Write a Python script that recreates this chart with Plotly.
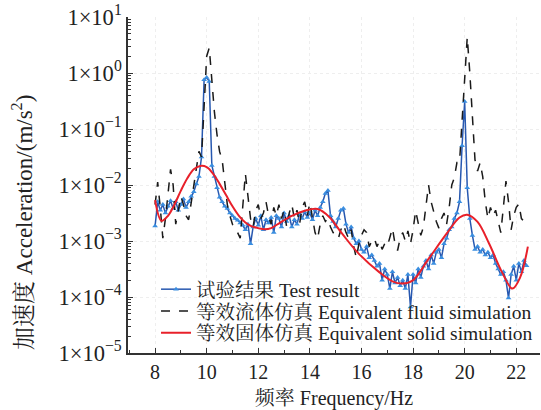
import plotly.graph_objects as go

# ---------------- data ----------------
# Frequencies (Hz) at 0.1 Hz spacing for test & fluid simulation
freq = [round(8.0 + 0.1 * i, 1) for i in range(145)]  # 8.0 ... 22.4

# log10 of acceleration (m/s^2), test result
test_log10 = [
    -2.73, -2.30, -2.45, -2.35, -2.50, -2.38, -2.28, -2.42, -2.30, -2.45,   # 8.0-8.9
    -2.35, -2.25, -2.40, -2.30, -2.20, -2.12, -1.98, -1.85, -1.50, -0.12,   # 9.0-9.9
    -0.08, -0.15, -1.65, -1.85, -2.05, -2.22, -2.30, -2.38, -2.42, -2.50,   # 10.0-10.9
    -2.55, -2.60, -2.63, -2.68, -2.72, -2.80, -2.70, -3.05, -2.75, -2.60,   # 11.0-11.9
    -2.72, -2.55, -2.80, -2.62, -2.68, -2.58, -2.85, -2.55, -2.60, -2.75,   # 12.0-12.9
    -2.50, -2.65, -2.55, -2.75, -2.62, -2.70, -2.52, -2.60, -2.48, -2.58,   # 13.0-13.9
    -2.50, -2.62, -2.45, -2.55, -2.40, -2.30, -2.15, -2.10, -2.55, -2.65,   # 14.0-14.9
    -2.75, -2.60, -2.45, -2.42, -2.70, -2.85, -2.75, -2.95, -3.05, -3.00,   # 15.0-15.9
    -3.15, -3.20, -3.10, -3.30, -3.25, -3.35, -3.45, -3.40, -3.70, -3.50,   # 16.0-16.9
    -3.60, -3.85, -3.55, -3.75, -3.65, -3.80, -3.70, -3.85, -3.60, -4.18,   # 17.0-17.9
    -3.60, -3.75, -3.50, -3.65, -3.45, -3.35, -3.50, -3.25, -3.40, -3.20,   # 18.0-18.9
    -3.15, -3.30, -3.05, -2.95, -2.80, -2.75, -2.60, -2.50, -2.30, -1.30,   # 19.0-19.9
    -0.51, -2.05, -2.60, -2.90, -3.15, -3.10, -3.20, -3.15, -3.25, -3.20,   # 20.0-20.9
    -3.30, -3.25, -3.40, -3.50, -3.60, -3.55, -3.70, -4.02, -3.60, -3.45,   # 21.0-21.9
    -3.70, -3.40, -3.55, -3.35, -3.44,                                       # 22.0-22.4
]

# log10 of acceleration, equivalent fluid simulation
fluid_log10 = [
    -2.35, -1.95, -2.40, -2.95, -2.60, -2.10, -1.72, -2.00, -2.70, -2.45,   # 8.0-8.9
    -2.20, -2.35, -2.55, -2.62, -2.30, -2.00, -1.65, -1.40, -1.50, -0.70,   # 9.0-9.9
    0.30, 0.45, -0.15, -0.70, -1.10, -1.40, -1.55, -2.00, -2.35, -2.55,     # 10.0-10.9
    -2.70, -2.80, -2.85, -2.95, -2.40, -1.80, -2.20, -2.60, -2.75, -2.45,   # 11.0-11.9
    -2.35, -2.60, -2.50, -2.30, -2.55, -2.70, -2.40, -2.55, -2.35, -2.60,   # 12.0-12.9
    -2.45, -2.75, -2.50, -2.35, -2.60, -2.45, -2.70, -2.40, -2.30, -2.55,   # 13.0-13.9
    -2.32, -2.60, -2.85, -2.96, -2.70, -2.55, -2.65, -2.60, -2.75, -2.85,   # 14.0-14.9
    -2.90, -2.96, -2.80, -2.70, -2.85, -2.95, -2.80, -3.10, -3.30, -3.05,   # 15.0-15.9
    -2.90, -2.80, -2.85, -3.10, -3.00, -2.95, -3.10, -3.00, -3.15, -3.05,   # 16.0-16.9
    -3.10, -2.95, -2.77, -3.05, -3.17, -2.95, -2.85, -3.00, -2.82, -3.05,   # 17.0-17.9
    -2.80, -2.46, -2.70, -2.90, -2.75, -2.40, -2.00, -2.30, -2.50, -2.65,   # 18.0-18.9
    -2.77, -2.60, -2.50, -2.70, -2.40, -2.00, -1.87, -1.60, -1.60, -0.90,   # 19.0-19.9
    -0.10, 0.64, 0.00, -0.90, -1.55, -1.75, -1.60, -1.85, -2.30, -2.60,     # 20.0-20.9
    -2.40, -2.55, -2.45, -2.65, -2.85, -2.40, -1.93, -2.30, -2.80, -2.55,   # 21.0-21.9
    -2.40, -2.34, -2.60, -2.65, -2.73,                                       # 22.0-22.4
]

# Equivalent solid simulation (smooth curve), frequency and log10 acceleration
solid_freq = [8.0, 8.25, 8.5, 8.75, 9.0, 9.25, 9.5, 9.75, 10.0, 10.25, 10.5, 10.75,
              11.0, 11.25, 11.5, 11.75, 12.0, 12.25, 12.5, 12.85, 13.3, 13.8, 14.3,
              14.75, 15.25, 15.9, 16.7, 17.2, 17.6, 18.0, 18.6, 19.3, 19.8, 20.1,
              20.5, 20.95, 21.45, 21.85, 22.15, 22.45]
solid_log10 = [-2.27, -2.64, -2.55, -2.35, -2.10, -1.88, -1.72, -1.66, -1.68, -1.80,
               -1.98, -2.18, -2.38, -2.55, -2.67, -2.74, -2.77, -2.79, -2.77, -2.67,
               -2.55, -2.46, -2.43, -2.57, -2.87, -3.23, -3.56, -3.72, -3.76, -3.70,
               -3.32, -2.87, -2.58, -2.53, -2.66, -3.05, -3.56, -3.85, -3.65, -3.10]

test_vals = [10 ** v for v in test_log10]
fluid_vals = [10 ** v for v in fluid_log10]
solid_vals = [10 ** v for v in solid_log10]

y_tickvals = [1e-5, 1e-4, 1e-3, 1e-2, 1e-1, 1e0, 1e1]
y_ticktext = ["1×10<sup>−5</sup>", "1×10<sup>−4</sup>", "1×10<sup>−3</sup>",
              "1×10<sup>−2</sup>", "1×10<sup>−1</sup>", "1×10<sup>0</sup>", "1×10<sup>1</sup>"]
x_tickvals = [8, 10, 12, 14, 16, 18, 20, 22]

names = ["试验结果 Test result", "等效流体仿真 Equivalent fluid simulation",
         "等效固体仿真 Equivalent solid simulation"]
y_title = "加速度 Acceleration/(m/s<sup>2</sup>)"
x_title = "频率 Frequency/Hz"

FONT = "'Liberation Serif', 'Noto Serif CJK SC', 'Noto Sans CJK SC', serif"
AX = "#333333"

fig = go.Figure()
fig.add_trace(go.Scatter(
    x=freq, y=test_vals, mode="lines+markers", name=names[0], legend="legend",
    line=dict(color="#2758b0", width=1.5),
    marker=dict(symbol="triangle-up", size=5, color="#3a8ee0"),
))
fig.add_trace(go.Scatter(
    x=freq, y=fluid_vals, mode="lines", name=names[1], legend="legend2",
    line=dict(color="#1a1a1a", width=1.5, dash="dash"),
))
fig.add_trace(go.Scatter(
    x=solid_freq, y=solid_vals, mode="lines", name=names[2], legend="legend3",
    line=dict(color="#e8202a", width=2, shape="spline", smoothing=1.0),
))

leg_common = dict(x=0.068, xanchor="left", yanchor="middle",
                  bgcolor="rgba(0,0,0,0)", font=dict(size=19.5, family=FONT, color="#222"),
                  itemwidth=30)

fig.update_layout(
    width=541, height=410,
    margin=dict(l=128, r=1, t=15, b=57),
    paper_bgcolor="white", plot_bgcolor="white",
    font=dict(family=FONT, size=18, color="#222"),
    showlegend=True,
    legend=dict(y=0.189, **leg_common),
    legend2=dict(y=0.124, **leg_common),
    legend3=dict(y=0.059, **leg_common),
    annotations=[dict(
        text=y_title, textangle=-90, xref="paper", yref="paper",
        x=-0.255, y=0.39, xanchor="center", yanchor="middle", showarrow=False,
        font=dict(size=23, family=FONT, color="#222"),
    )],
)
fig.update_xaxes(
    range=[6.95, 22.92], tickvals=x_tickvals, ticks="inside", ticklen=5,
    showline=True, linecolor=AX, linewidth=1.5, tickcolor=AX,
    showgrid=True, gridcolor="#eeeeee", griddash="dot", zeroline=False,
    minor=dict(dtick=1, tick0=7, ticks="inside", ticklen=3, tickcolor=AX, showgrid=False),
    title=dict(text=x_title, font=dict(size=20), standoff=10),
    tickfont=dict(size=20),
)
fig.update_yaxes(
    type="log", range=[-5, 1], tickvals=y_tickvals, ticktext=y_ticktext,
    ticks="inside", ticklen=5, tickcolor=AX,
    showline=True, linecolor=AX, linewidth=1.5,
    showgrid=True, gridcolor="#eeeeee", griddash="dot", zeroline=False,
    minor=dict(dtick="D1", ticks="inside", ticklen=3, tickcolor=AX, showgrid=False),
    tickfont=dict(size=22.5), ticklabeloverflow="allow",
)

fig.write_html("out.html")
